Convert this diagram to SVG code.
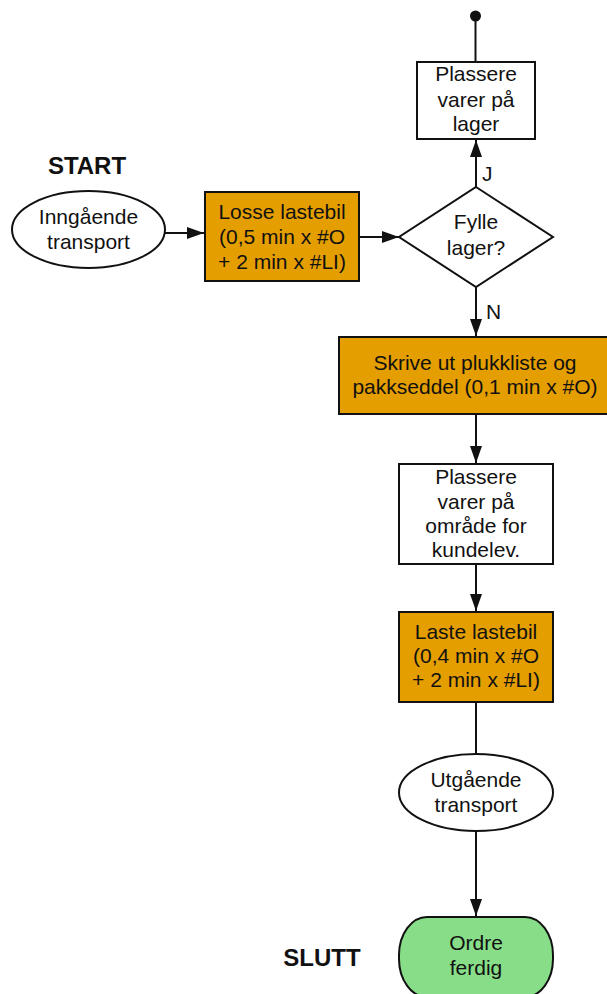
<svg xmlns="http://www.w3.org/2000/svg" width="607" height="994" viewBox="0 0 607 994">
  <style>
    .box { stroke: #111; stroke-width: 2; }
    .plain { fill: #fff; }
    .task { fill: #E59E00; }
    .end { fill: #88DD88; }
    .t { font-family: "Liberation Sans", Arial, sans-serif; font-size: 21px; fill: #111; text-anchor: middle; }
    .lbl { font-family: "Liberation Sans", Arial, sans-serif; font-size: 21px; fill: #111; }
    .title { font-family: "Liberation Sans", Arial, sans-serif; font-size: 24px; font-weight: bold; fill: #111; text-anchor: middle; }
    .edge { stroke: #111; stroke-width: 2; fill: none; }
  </style>
  <defs>
    <marker id="arrow" markerUnits="userSpaceOnUse" markerWidth="18" markerHeight="13" refX="17" refY="6" orient="auto">
      <path d="M0,0 L17,6 L0,12 z" fill="#111"/>
    </marker>
  </defs>
  <rect width="607" height="994" fill="#fff"/>

  <!-- section titles -->
  <text class="title" x="87" y="174">START</text>
  <text class="title" x="322" y="966">SLUTT</text>

  <!-- connectors -->
  <g id="connectors">
    <circle cx="475.5" cy="16" r="5.5" fill="#111"/>
    <line class="edge" x1="475.5" y1="16" x2="475.5" y2="62"/>
    <line class="edge" x1="476" y1="187" x2="476" y2="140" marker-end="url(#arrow)"/>
    <text class="lbl" x="482" y="181">J</text>
    <line class="edge" x1="165" y1="233" x2="204" y2="233" marker-end="url(#arrow)"/>
    <line class="edge" x1="359" y1="237" x2="399" y2="237" marker-end="url(#arrow)"/>
    <line class="edge" x1="476" y1="287" x2="476" y2="336" marker-end="url(#arrow)"/>
    <text class="lbl" x="486" y="319">N</text>
    <line class="edge" x1="476" y1="414" x2="476" y2="463" marker-end="url(#arrow)"/>
    <line class="edge" x1="476" y1="565" x2="476" y2="611" marker-end="url(#arrow)"/>
    <line class="edge" x1="476" y1="702" x2="476" y2="754"/>
    <line class="edge" x1="476" y1="831" x2="476" y2="916" marker-end="url(#arrow)"/>
  </g>

  <g id="inngaende">
    <ellipse class="box plain" cx="88.5" cy="229.5" rx="76.5" ry="38.5"/>
    <text class="t" x="88.5" y="224">Inngående</text>
    <text class="t" x="88.5" y="249">transport</text>
  </g>

  <g id="losse">
    <rect class="box task" x="205" y="192" width="154" height="89"/>
    <text class="t" x="282" y="219">Losse lastebil</text>
    <text class="t" x="282" y="244">(0,5 min x #O</text>
    <text class="t" x="282" y="269">+ 2 min x #LI)</text>
  </g>

  <g id="fylle">
    <polygon class="box plain" points="476,187 553,237 476,287 399,237"/>
    <text class="t" x="476" y="229">Fylle</text>
    <text class="t" x="476" y="255">lager?</text>
  </g>

  <g id="plassere-lager">
    <rect class="box plain" x="417" y="62" width="118" height="77"/>
    <text class="t" x="476" y="81">Plassere</text>
    <text class="t" x="476" y="107">varer på</text>
    <text class="t" x="476" y="131">lager</text>
  </g>

  <g id="skrive">
    <rect class="box task" x="339" y="337" width="272" height="77"/>
    <text class="t" x="475" y="370">Skrive ut plukkliste og</text>
    <text class="t" x="475" y="394">pakkseddel (0,1 min x #O)</text>
  </g>

  <g id="plassere-omrade">
    <rect class="box plain" x="399" y="464" width="154" height="100"/>
    <text class="t" x="476" y="484">Plassere</text>
    <text class="t" x="476" y="509">varer på</text>
    <text class="t" x="476" y="533">område for</text>
    <text class="t" x="476" y="557">kundelev.</text>
  </g>

  <g id="laste">
    <rect class="box task" x="399" y="612" width="154" height="90"/>
    <text class="t" x="476" y="639">Laste lastebil</text>
    <text class="t" x="476" y="663">(0,4 min x #O</text>
    <text class="t" x="476" y="687">+ 2 min x #LI)</text>
  </g>

  <g id="utgaende">
    <ellipse class="box plain" cx="476" cy="792.5" rx="77" ry="38.5"/>
    <text class="t" x="476" y="787">Utgående</text>
    <text class="t" x="476" y="812">transport</text>
  </g>

  <g id="ordre">
    <rect class="box end" x="399" y="917" width="154" height="80" rx="28" ry="38"/>
    <text class="t" x="476" y="950">Ordre</text>
    <text class="t" x="476" y="975">ferdig</text>
  </g>
</svg>
